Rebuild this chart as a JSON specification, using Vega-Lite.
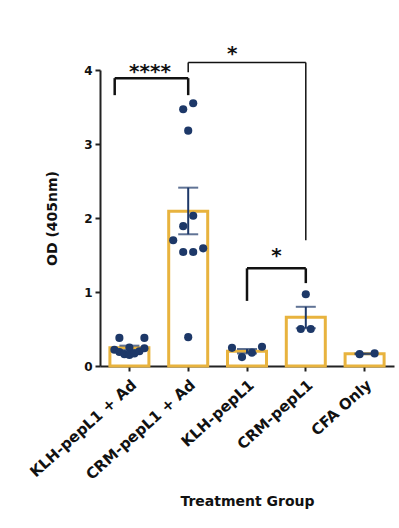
{
  "$schema": "https://vega.github.io/schema/vega-lite/v6.json",
  "autosize": "none",
  "width": 294,
  "height": 296,
  "padding": {"left": 100, "top": 70, "right": 5, "bottom": 162},
  "background": "white",
  "config": {
    "view": {"stroke": null},
    "font": "DejaVu Sans",
    "axis": {"grid": false, "domainColor": "#222", "domainWidth": 2, "tickColor": "#222", "tickWidth": 2, "tickSize": 5, "labelColor": "#111", "titleColor": "#111", "labelFont": "DejaVu Sans", "titleFont": "DejaVu Sans", "labelFontWeight": "bold", "titleFontWeight": "bold"}
  },
  "datasets": {
    "points": [
      {"group": "KLH-pepL1 + Ad", "od": 0.38, "slot": -2},
      {"group": "KLH-pepL1 + Ad", "od": 0.38, "slot": 3},
      {"group": "KLH-pepL1 + Ad", "od": 0.22, "slot": -3},
      {"group": "KLH-pepL1 + Ad", "od": 0.19, "slot": -2},
      {"group": "KLH-pepL1 + Ad", "od": 0.16, "slot": -1},
      {"group": "KLH-pepL1 + Ad", "od": 0.15, "slot": 0},
      {"group": "KLH-pepL1 + Ad", "od": 0.25, "slot": 0},
      {"group": "KLH-pepL1 + Ad", "od": 0.17, "slot": 1},
      {"group": "KLH-pepL1 + Ad", "od": 0.20, "slot": 2},
      {"group": "KLH-pepL1 + Ad", "od": 0.24, "slot": 3},
      {"group": "CRM-pepL1 + Ad", "od": 3.55, "slot": 1},
      {"group": "CRM-pepL1 + Ad", "od": 3.47, "slot": -1},
      {"group": "CRM-pepL1 + Ad", "od": 3.18, "slot": 0},
      {"group": "CRM-pepL1 + Ad", "od": 2.03, "slot": 1},
      {"group": "CRM-pepL1 + Ad", "od": 1.89, "slot": -1},
      {"group": "CRM-pepL1 + Ad", "od": 1.70, "slot": -3},
      {"group": "CRM-pepL1 + Ad", "od": 1.54, "slot": -1},
      {"group": "CRM-pepL1 + Ad", "od": 1.54, "slot": 1},
      {"group": "CRM-pepL1 + Ad", "od": 1.59, "slot": 3},
      {"group": "CRM-pepL1 + Ad", "od": 0.39, "slot": 0},
      {"group": "KLH-pepL1", "od": 0.245, "slot": -3},
      {"group": "KLH-pepL1", "od": 0.12, "slot": -1},
      {"group": "KLH-pepL1", "od": 0.18, "slot": 1},
      {"group": "KLH-pepL1", "od": 0.26, "slot": 3},
      {"group": "CRM-pepL1", "od": 0.97, "slot": 0},
      {"group": "CRM-pepL1", "od": 0.50, "slot": -1},
      {"group": "CRM-pepL1", "od": 0.50, "slot": 1},
      {"group": "CFA Only", "od": 0.16, "slot": -1},
      {"group": "CFA Only", "od": 0.17, "slot": 2}
    ],
    "summary": [
      {"group": "KLH-pepL1 + Ad", "mean": 0.245, "lo": 0.215, "hi": 0.275},
      {"group": "CRM-pepL1 + Ad", "mean": 2.09, "lo": 1.78, "hi": 2.41},
      {"group": "KLH-pepL1", "mean": 0.20, "lo": 0.17, "hi": 0.23},
      {"group": "CRM-pepL1", "mean": 0.66, "lo": 0.51, "hi": 0.80},
      {"group": "CFA Only", "mean": 0.165, "lo": 0.16, "hi": 0.17}
    ],
    "brackets": [
      {"id": 1, "from": "KLH-pepL1 + Ad", "to": "CRM-pepL1 + Ad", "top": 3.89, "from_end": 3.66, "to_end": 3.66, "label": "****", "label_y": 3.97},
      {"id": 2, "from": "CRM-pepL1 + Ad", "to": "CRM-pepL1", "top": 4.10, "from_end": 3.97, "to_end": 1.70, "label": "*", "label_y": 4.22},
      {"id": 3, "from": "KLH-pepL1", "to": "CRM-pepL1", "top": 1.32, "from_end": 0.88, "to_end": 1.12, "label": "*", "label_y": 1.48}
    ]
  },
  "layer": [
    {
      "data": {"name": "summary"},
      "mark": {"type": "bar", "width": 39, "fill": "white", "stroke": "#E8B33E", "strokeWidth": 3},
      "encoding": {
        "x": {
          "field": "group", "type": "nominal",
          "scale": {"domain": ["KLH-pepL1 + Ad", "CRM-pepL1 + Ad", "KLH-pepL1", "CRM-pepL1", "CFA Only"], "paddingInner": 0, "paddingOuter": 0},
          "axis": {"title": "Treatment Group", "labelAngle": -42, "labelFontSize": 15, "titleFontSize": 14, "labelPadding": 6, "titlePadding": 12}
        },
        "y": {"field": "mean", "type": "quantitative", "scale": {"domain": [0, 4], "nice": false},
          "axis": {"title": "OD (405nm)", "values": [0, 1, 2, 3, 4], "format": "d", "labelFontSize": 12, "titleFontSize": 14, "titlePadding": 24, "labelPadding": 3}}
      }
    },
    {
      "data": {"name": "summary"},
      "mark": {"type": "rule", "color": "#1D3868", "strokeWidth": 2},
      "encoding": {"x": {"field": "group", "type": "nominal"}, "y": {"field": "lo", "type": "quantitative"}, "y2": {"field": "hi"}}
    },
    {
      "data": {"name": "summary"},
      "mark": {"type": "tick", "color": "#1D3868", "thickness": 2, "size": 20},
      "encoding": {"x": {"field": "group", "type": "nominal"}, "y": {"field": "hi", "type": "quantitative"}}
    },
    {
      "data": {"name": "summary"},
      "mark": {"type": "tick", "color": "#1D3868", "thickness": 2, "size": 20},
      "encoding": {"x": {"field": "group", "type": "nominal"}, "y": {"field": "lo", "type": "quantitative"}}
    },
    {
      "data": {"name": "points"},
      "mark": {"type": "circle", "color": "#1D3868", "opacity": 1, "size": 66},
      "encoding": {
        "x": {"field": "group", "type": "nominal", "bandPosition": 0},
        "y": {"field": "od", "type": "quantitative"},
        "xOffset": {"field": "slot", "type": "quantitative", "scale": {"domain": [-3, 3], "range": [14.4, 44.4]}}
      }
    },
    {
      "data": {"name": "brackets"},
      "mark": {"type": "rule", "color": "#111", "strokeWidth": 2.5},
      "transform": [{"filter": "datum.id == 3"}],
      "encoding": {"x": {"field": "from", "type": "nominal"}, "x2": {"field": "to"}, "y": {"field": "top", "type": "quantitative"}}
    },
    {
      "data": {"name": "brackets"},
      "mark": {"type": "rule", "color": "#111", "strokeWidth": 2.5},
      "transform": [{"filter": "datum.id == 1"}],
      "encoding": {"x": {"field": "from", "type": "nominal", "bandPosition": 0.25}, "x2": {"field": "to"}, "y": {"field": "top", "type": "quantitative"}}
    },
    {
      "data": {"name": "brackets"},
      "mark": {"type": "rule", "color": "#111", "strokeWidth": 1.5},
      "transform": [{"filter": "datum.id == 2"}],
      "encoding": {"x": {"field": "from", "type": "nominal"}, "x2": {"field": "to"}, "y": {"field": "top", "type": "quantitative"}}
    },
    {
      "data": {"name": "brackets"},
      "mark": {"type": "rule", "color": "#111", "strokeWidth": 2.5},
      "transform": [{"filter": "datum.id == 3"}],
      "encoding": {"x": {"field": "from", "type": "nominal"}, "y": {"field": "top", "type": "quantitative"}, "y2": {"field": "from_end"}}
    },
    {
      "data": {"name": "brackets"},
      "mark": {"type": "rule", "color": "#111", "strokeWidth": 2.5},
      "transform": [{"filter": "datum.id == 1"}],
      "encoding": {"x": {"field": "from", "type": "nominal", "bandPosition": 0.25}, "y": {"field": "top", "type": "quantitative"}, "y2": {"field": "from_end"}}
    },
    {
      "data": {"name": "brackets"},
      "mark": {"type": "rule", "color": "#111", "strokeWidth": 2.5},
      "transform": [{"filter": "datum.id != 2"}],
      "encoding": {"x": {"field": "to", "type": "nominal"}, "y": {"field": "top", "type": "quantitative"}, "y2": {"field": "to_end"}}
    },
    {
      "data": {"name": "brackets"},
      "mark": {"type": "rule", "color": "#111", "strokeWidth": 1.5},
      "transform": [{"filter": "datum.id == 2"}],
      "encoding": {"x": {"field": "from", "type": "nominal"}, "y": {"field": "top", "type": "quantitative"}, "y2": {"field": "from_end"}}
    },
    {
      "data": {"name": "brackets"},
      "mark": {"type": "rule", "color": "#111", "strokeWidth": 1.5},
      "transform": [{"filter": "datum.id == 2"}],
      "encoding": {"x": {"field": "to", "type": "nominal"}, "y": {"field": "top", "type": "quantitative"}, "y2": {"field": "to_end"}}
    },
    {
      "data": {"name": "brackets"},
      "mark": {"type": "text", "fontSize": 20, "fontWeight": "bold", "color": "#111", "baseline": "middle", "font": "DejaVu Sans"},
      "transform": [{"filter": "datum.id == 1"}],
      "encoding": {"x": {"field": "from", "type": "nominal", "bandPosition": 0.85}, "y": {"field": "label_y", "type": "quantitative"}, "text": {"field": "label"}}
    },
    {
      "data": {"name": "brackets"},
      "mark": {"type": "text", "fontSize": 20, "fontWeight": "bold", "color": "#111", "baseline": "middle", "font": "DejaVu Sans"},
      "transform": [{"filter": "datum.id == 2"}],
      "encoding": {"x": {"field": "from", "type": "nominal", "bandPosition": 1.25}, "y": {"field": "label_y", "type": "quantitative"}, "text": {"field": "label"}}
    },
    {
      "data": {"name": "brackets"},
      "mark": {"type": "text", "fontSize": 20, "fontWeight": "bold", "color": "#111", "baseline": "middle", "font": "DejaVu Sans"},
      "transform": [{"filter": "datum.id == 3"}],
      "encoding": {"x": {"field": "from", "type": "nominal", "bandPosition": 1.0}, "y": {"field": "label_y", "type": "quantitative"}, "text": {"field": "label"}}
    }
  ]
}
